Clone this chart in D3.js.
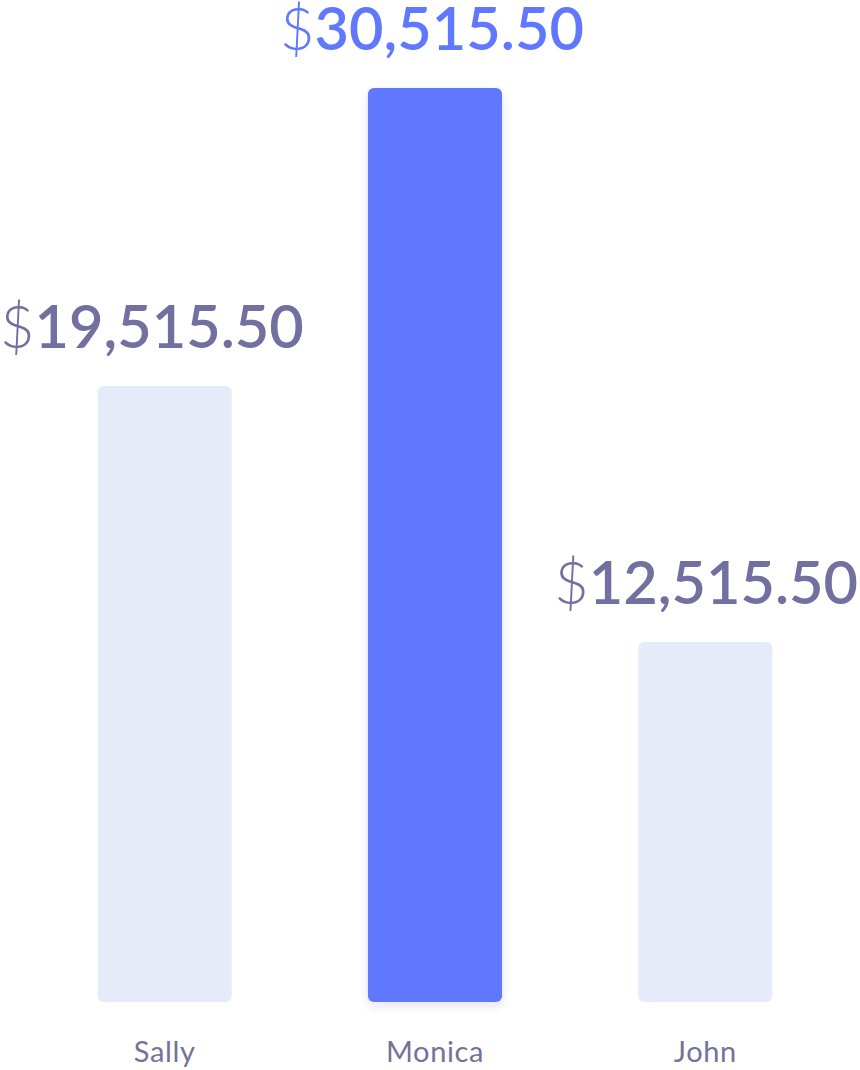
<!DOCTYPE html>
<html><head><meta charset="utf-8">
<script src="https://cdn.jsdelivr.net/npm/d3@7"></script>
<style>html,body{margin:0;padding:0;background:#fff;}svg{display:block;}</style>
</head><body>
<svg id="chart" width="860" height="1070"></svg>
<script>
const categories = ["Sally", "Monica", "John"];
const amounts = [19515.50, 30515.50, 12515.50];
const barValues = [67.4, 100, 39.4];
const highlighted = ["Monica"];

const W = 860;
const svg = d3.select("#chart");
const defs = svg.append("defs");
const f = defs.append("filter").attr("id","shadow").attr("x","-20%").attr("y","-5%").attr("width","140%").attr("height","110%");
f.append("feDropShadow").attr("dx",0).attr("dy",4).attr("stdDeviation",5).attr("flood-color","#3a3a80").attr("flood-opacity",0.12);

const x = d3.scaleBand().domain(categories).range([30, 840]).paddingInner(0.5037).paddingOuter(0.25);
const y = d3.scaleLinear().domain([0, 100]).range([1002, 88]);

const data = categories.map((c,i)=>({c, amount: amounts[i], v: barValues[i], hi: highlighted.includes(c)}));

svg.selectAll("rect.bar").data(data).join("rect")
  .attr("class","bar")
  .attr("x", d=>x(d.c)).attr("width", x.bandwidth())
  .attr("y", d=>y(d.v)).attr("height", d=>y(0)-y(d.v))
  .attr("rx",6).attr("ry",6)
  .attr("fill", d=>d.hi ? "#6078FF" : "#E6EBFA")
  .attr("filter", d=>d.hi ? "url(#shadow)" : null);

const fmt = d3.format(",.2f");
const lab = svg.selectAll("text.val").data(data).join("text")
  .attr("class","val")
  .attr("x", d=>x(d.c)+x.bandwidth()/2)
  .attr("y", d=>y(d.v)-38)
  .attr("text-anchor","middle")
  .attr("font-family","Lato, sans-serif")
  .attr("font-size",59.5)
  .attr("fill", d=>d.hi ? "#6078FF" : "#7170A0");
lab.append("tspan").attr("font-weight",300).text("$");
lab.append("tspan").attr("font-weight",600).text(d=>fmt(d.amount));

// pin the outermost labels to the chart edges
lab.each(function(d,i){
  const el = d3.select(this);
  if (i === 0) el.attr("text-anchor","start").attr("x", 0);
  else if (i === data.length-1) el.attr("text-anchor","end").attr("x", W-2);
  else el.attr("x", x(d.c)+x.bandwidth()/2 - 3);
});

svg.selectAll("text.cat").data(data).join("text")
  .attr("class","cat")
  .attr("x", d=>x(d.c)+x.bandwidth()/2)
  .attr("y", 1062)
  .attr("text-anchor","middle")
  .attr("font-family","Lato, sans-serif")
  .attr("font-size",29)
  .attr("letter-spacing",0.6)
  .attr("fill","#73729A")
  .text(d=>d.c);
</script>
</body></html>
